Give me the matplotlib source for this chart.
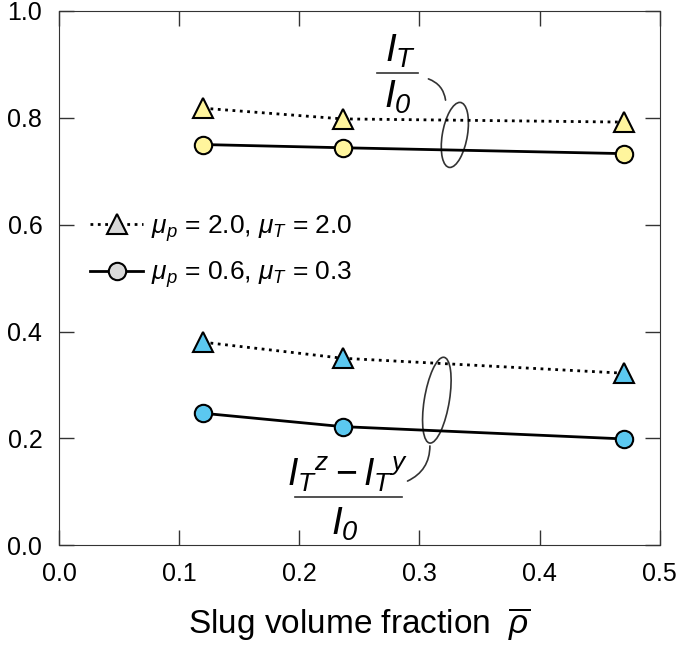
import matplotlib.pyplot as plt
from matplotlib.patches import Ellipse

plt.rcParams['font.family'] = ['Liberation Sans', 'DejaVu Sans']
plt.rcParams['mathtext.fontset'] = 'custom'
plt.rcParams['mathtext.rm'] = 'Liberation Sans'
plt.rcParams['mathtext.it'] = 'Liberation Sans:italic'
plt.rcParams['mathtext.sf'] = 'Liberation Sans:italic'  # для курсивного нуля

# данные
rho = [0.12, 0.236, 0.47]
it_mu2 = [0.818, 0.798, 0.792]
it_mu06 = [0.750, 0.744, 0.733]
diff_mu2 = [0.380, 0.350, 0.322]
diff_mu06 = [0.247, 0.222, 0.199]

yellow = '#FFF59D'
blue = '#5BC8F0'
gray = '#D9D9D9'
dark = '#333333'

fig = plt.figure(figsize=(6.78, 6.46), dpi=100)
ax = fig.add_axes([0.087, 0.156, 0.886, 0.827])

ax.plot(rho, it_mu2, ':', color='black', lw=2, marker='^', ms=14,
        mfc=yellow, mec='black', mew=1.5)
ax.plot(rho, it_mu06, '-', color='black', lw=2, marker='o', ms=12.5,
        mfc=yellow, mec='black', mew=1.5)
ax.plot(rho, diff_mu2, ':', color='black', lw=2, marker='^', ms=14,
        mfc=blue, mec='black', mew=1.5)
ax.plot(rho, diff_mu06, '-', color='black', lw=2, marker='o', ms=12.5,
        mfc=blue, mec='black', mew=1.5)

# легенда
h1, = ax.plot([], [], ':', color='black', lw=2, marker='^', ms=14,
              mfc=gray, mec='black', mew=1.5)
h2, = ax.plot([], [], '-', color='black', lw=2, marker='o', ms=12.5,
              mfc=gray, mec='black', mew=1.5)
ax.legend([h1, h2], [r'$\mu_p$ = 2.0, $\mu_T$ = 2.0', r'$\mu_p$ = 0.6, $\mu_T$ = 0.3'],
          loc='upper left', bbox_to_anchor=(0.052, 0.622), frameon=False,
          fontsize=19, handlelength=2.0, handletextpad=0.3, labelspacing=0.6,
          borderpad=0, borderaxespad=0)

# эллипсы
ax.add_patch(Ellipse((0.3295, 0.768), 0.021, 0.122, angle=-4, fill=False,
                     ec=dark, lw=1.2))
ax.add_patch(Ellipse((0.3145, 0.2715), 0.021, 0.161, angle=-4, fill=False,
                     ec=dark, lw=1.2))

# подпись I_T / I_0
ax.text(0.284, 0.925, r'$I_T$', fontsize=28, ha='center', va='center')
ax.plot([0.2646, 0.2987], [0.884, 0.884], color=dark, lw=1.2)
ax.text(0.282, 0.838, r'$I_{\mathsf{0}}$', fontsize=28, ha='center', va='center')

# подпись (I_T^z - I_T^y) / I_0
ax.text(0.2404, 0.133, r'$I_T{}^{z} - I_T{}^{y}$', fontsize=27, ha='center', va='center')
ax.plot([0.1963, 0.2854], [0.0899, 0.0899], color=dark, lw=1.2)
ax.text(0.238, 0.040, r'$I_{\mathsf{0}}$', fontsize=28, ha='center', va='center')

ax.annotate('', xy=(0.322, 0.828), xytext=(0.3053, 0.8745),
            arrowprops=dict(arrowstyle='-', color=dark, lw=1.2,
                            connectionstyle='arc3,rad=-0.35'))
ax.annotate('', xy=(0.3087, 0.191), xytext=(0.288, 0.118),
            arrowprops=dict(arrowstyle='-', color=dark, lw=1.2,
                            connectionstyle='arc3,rad=0.35'))

ax.set_xlim(0, 0.5)
ax.set_ylim(0, 1.0)
ax.set_xticks([0.0, 0.1, 0.2, 0.3, 0.4, 0.5])
ax.set_yticks([0.0, 0.2, 0.4, 0.6, 0.8, 1.0])
ax.tick_params(direction='in', length=11, width=1, top=True, right=True,
               labelsize=18, pad=12, colors=dark, labelcolor='black')
for s in ax.spines.values():
    s.set_color(dark)
ax.set_xlabel(r'Slug volume fraction  $\overline{\rho}$', fontsize=24, labelpad=14)

fig.savefig('out.png', dpi=100)
